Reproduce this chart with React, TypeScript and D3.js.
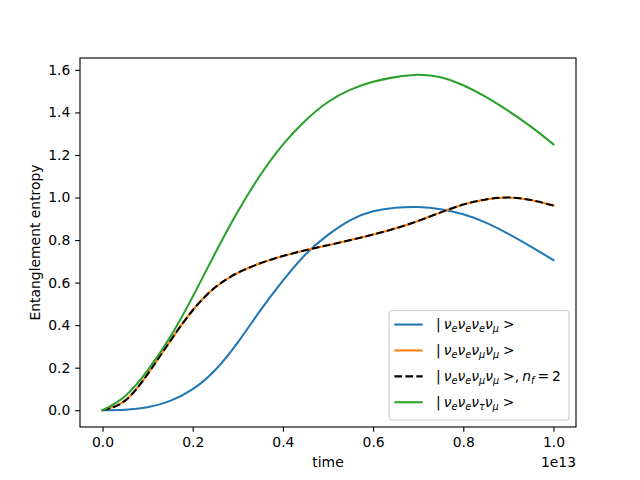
import { useRef, useEffect } from "react";
import * as d3 from "d3";

// time in units of 1e13
const times = [0, 0.05, 0.1, 0.15, 0.2, 0.25, 0.3, 0.35, 0.4, 0.45, 0.5, 0.55, 0.6, 0.65, 0.7, 0.75, 0.8, 0.85, 0.9, 0.95, 1.0];

const eeemVals = [0, 0.002, 0.014, 0.044, 0.099, 0.189, 0.319, 0.469, 0.609, 0.732, 0.824, 0.894, 0.935, 0.952, 0.955, 0.945, 0.921, 0.882, 0.829, 0.769, 0.706];
const eemmVals = [0, 0.045, 0.17, 0.325, 0.47, 0.578, 0.646, 0.691, 0.725, 0.752, 0.776, 0.8, 0.826, 0.855, 0.89, 0.93, 0.967, 0.991, 1.0, 0.988, 0.962];
const eemmNf2Vals = [0, 0.045, 0.17, 0.325, 0.47, 0.578, 0.646, 0.691, 0.725, 0.752, 0.776, 0.8, 0.826, 0.855, 0.89, 0.93, 0.967, 0.991, 1.0, 0.988, 0.962];
const eetmVals = [0, 0.066, 0.187, 0.344, 0.534, 0.739, 0.934, 1.106, 1.249, 1.362, 1.449, 1.507, 1.544, 1.566, 1.577, 1.565, 1.528, 1.473, 1.407, 1.333, 1.25];

const xTicks = [0, 0.2, 0.4, 0.6, 0.8, 1.0];
const yTicks = [0, 0.2, 0.4, 0.6, 0.8, 1.0, 1.2, 1.4, 1.6];

type Part = { t: string; it?: boolean; sub?: boolean; dx?: number };

const nu = (s: string): Part[] => [{ t: "ν", it: true }, { t: s, it: true, sub: true }];

const series = [
  { vals: eeemVals, color: "#1f77b4", dash: null as string | null,
    label: [{ t: "|" }, { ...nu("e")[0], dx: 3 }, nu("e")[1], ...nu("e"), ...nu("e"), ...nu("μ"), { t: ">", dx: 4 }] as Part[] },
  { vals: eemmVals, color: "#ff7f0e", dash: null,
    label: [{ t: "|" }, { ...nu("e")[0], dx: 3 }, nu("e")[1], ...nu("e"), ...nu("μ"), ...nu("μ"), { t: ">", dx: 4 }] as Part[] },
  { vals: eemmNf2Vals, color: "#000000", dash: "7.7,3.3",
    label: [{ t: "|" }, { ...nu("e")[0], dx: 3 }, nu("e")[1], ...nu("e"), ...nu("μ"), ...nu("μ"), { t: ">", dx: 4 }, { t: "," },
      { t: "n", it: true, dx: 3 }, { t: "f", it: true, sub: true }, { t: "=", dx: 3 }, { t: "2", dx: 3 }] as Part[] },
  { vals: eetmVals, color: "#2ca02c", dash: null,
    label: [{ t: "|" }, { ...nu("e")[0], dx: 3 }, nu("e")[1], ...nu("e"), ...nu("τ"), ...nu("μ"), { t: ">", dx: 4 }] as Part[] },
];

export default function App() {
  const svgRef = useRef<SVGSVGElement>(null);
  const width = 640;
  const height = 480;

  useEffect(() => {
    if (!svgRef.current) return;
    const svg = d3.select(svgRef.current);
    svg.selectAll("*").remove();

    const font = "DejaVu Sans";
    const fs = 13.9;
    const margin = { top: 58, right: 64, bottom: 53, left: 80 };
    const w = width - margin.left - margin.right;
    const h = height - margin.top - margin.bottom;

    const x = d3.scaleLinear().domain([-0.05, 1.05]).range([0, w]);
    const yMax = d3.max(eetmVals) as number;
    const pad = yMax * 0.05;
    const y = d3.scaleLinear().domain([-pad, yMax + pad]).range([h, 0]);

    svg.append("rect").attr("width", width).attr("height", height).attr("fill", "white");

    const g = svg.append("g").attr("transform", `translate(${margin.left},${margin.top})`);

    const line = d3.line<number>()
      .x((_, i) => x(times[i]))
      .y((d) => y(d))
      .curve(d3.curveNatural);

    series.forEach((s) => {
      g.append("path")
        .datum(s.vals)
        .attr("d", line)
        .attr("fill", "none")
        .attr("stroke", s.color)
        .attr("stroke-width", 2.08)
        .attr("stroke-dasharray", s.dash)
        .attr("stroke-linecap", s.dash ? "butt" : "square");
    });

    // axes
    const xAxis = g.append("g")
      .attr("transform", `translate(0,${h})`)
      .call(d3.axisBottom(x).tickValues(xTicks).tickFormat(d3.format(".1f")).tickSize(4.86).tickPadding(4.86).tickSizeOuter(0));
    const yAxis = g.append("g")
      .call(d3.axisLeft(y).tickValues(yTicks).tickFormat(d3.format(".1f")).tickSize(4.86).tickPadding(4.86).tickSizeOuter(0));
    [xAxis, yAxis].forEach((a) => {
      a.select(".domain").remove();
      a.selectAll("line").attr("stroke", "black").attr("stroke-width", 1.11);
      a.selectAll("text").attr("font-family", font).attr("font-size", fs).attr("fill", "black");
    });

    g.append("rect")
      .attr("width", w).attr("height", h)
      .attr("fill", "none").attr("stroke", "black").attr("stroke-width", 1.11);

    svg.append("text")
      .attr("x", margin.left + w / 2).attr("y", 466.5)
      .attr("text-anchor", "middle")
      .attr("font-family", font).attr("font-size", fs)
      .text("time");
    svg.append("text")
      .attr("x", margin.left + w).attr("y", 466.5)
      .attr("text-anchor", "end")
      .attr("font-family", font).attr("font-size", fs)
      .text("1e13");
    svg.append("text")
      .attr("transform", `translate(40,${margin.top + h / 2}) rotate(-90)`)
      .attr("text-anchor", "middle")
      .attr("font-family", font).attr("font-size", fs)
      .text("Entanglement entropy");

    // legend
    const lgRight = w - 6.95;
    const lgBottom = h - 6.95;
    const lgW = 180;
    const lgH = 109.5;
    const lg = g.append("g").attr("transform", `translate(${lgRight - lgW},${lgBottom - lgH})`);
    lg.append("rect")
      .attr("width", lgW).attr("height", lgH).attr("rx", 3)
      .attr("fill", "white").attr("fill-opacity", 0.8)
      .attr("stroke", "#cccccc").attr("stroke-width", 1.11);

    series.forEach((s, i) => {
      const ry = 14 + i * 25.9;
      lg.append("line")
        .attr("x1", 5.3).attr("x2", 33.7).attr("y1", ry).attr("y2", ry)
        .attr("stroke", s.color).attr("stroke-width", 2.08)
        .attr("stroke-dasharray", s.dash);
      const txt = lg.append("text")
        .attr("x", 47).attr("y", ry + 4.6)
        .attr("font-family", font).attr("font-size", fs);
      let shift = 0;
      s.label.forEach((p) => {
        const want = p.sub ? 3 : 0;
        txt.append("tspan")
          .attr("dy", want - shift)
          .attr("dx", p.dx ?? 0)
          .attr("font-style", p.it ? "italic" : "normal")
          .attr("font-size", p.sub ? 9.7 : fs)
          .text(p.t);
        shift = want;
      });
    });
  }, []);

  return (
    <svg
      ref={svgRef}
      width={width}
      height={height}
      viewBox={`0 0 ${width} ${height}`}
      style={{ position: "absolute", left: 0, top: 0 }}
    />
  );
}
